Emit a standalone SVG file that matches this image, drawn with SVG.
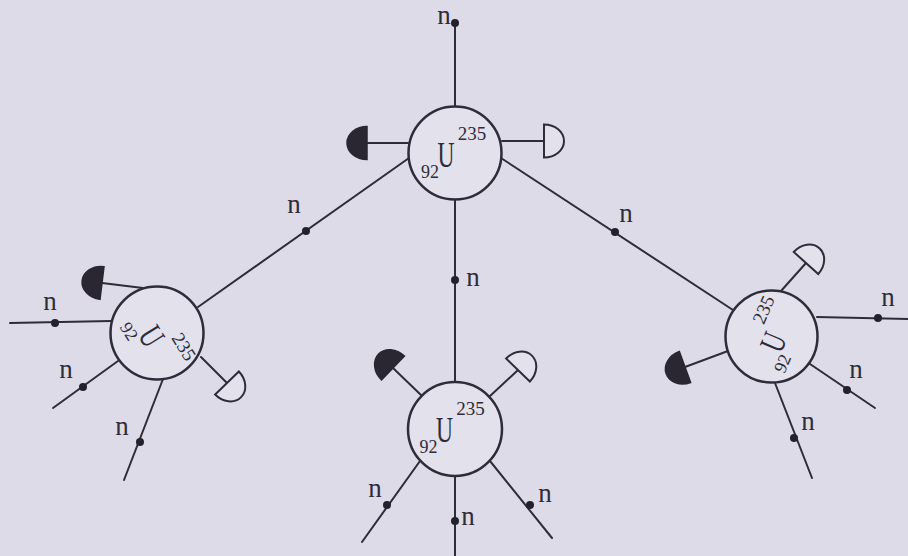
<svg xmlns="http://www.w3.org/2000/svg" width="908" height="556" viewBox="0 0 908 556">
  <defs>
    <style>
      .ln { stroke: #2f2c3a; stroke-width: 2; fill: none; stroke-linecap: round; }
      .nuc { stroke: #2f2c3a; stroke-width: 2.5; fill: #e2e1ec; }
      .dot { fill: #24212e; }
      .lbl { font-family: "Liberation Serif", "Times New Roman", serif; fill: #2f2c3a; }
      .n { font-size: 27px; text-anchor: middle; }
      .sym { font-size: 35px; text-anchor: middle; }
      .mass { font-size: 19px; text-anchor: middle; }
      .z { font-size: 18px; text-anchor: middle; }
      .full { fill: #2a2632; stroke: #2a2632; stroke-width: 1.5; }
      .open { fill: #e2e1ec; stroke: #2f2c3a; stroke-width: 2; }
    </style>
    <!-- half disc: flat side on the y axis, bulge toward +x -->
    <path id="half" d="M0,-16.5 A20,16.5 0 0 1 0,16.5 Z"/>
    <!-- nucleus label laid out around the centre of the U -->
    <g id="u235">
      <text class="lbl sym" x="0" y="12" textLength="17" lengthAdjust="spacingAndGlyphs">U</text>
      <text class="lbl mass" x="26" y="-15">235</text>
      <text class="lbl z" x="-16" y="23">92</text>
    </g>
  </defs>

  <rect width="908" height="556" fill="#dcdbe7"/>

  <!-- connectors between nuclei -->
  <g id="connectors">
    <line class="ln" x1="409" y1="158" x2="198" y2="307"/>
    <line class="ln" x1="501" y1="158" x2="733" y2="310"/>
    <line class="ln" x1="455" y1="200" x2="455" y2="382"/>
    <circle class="dot" cx="306" cy="231" r="4"/>
    <circle class="dot" cx="455" cy="280" r="4"/>
    <circle class="dot" cx="615" cy="232" r="4"/>
    <text class="lbl n" x="294" y="213">n</text>
    <text class="lbl n" x="473" y="286">n</text>
    <text class="lbl n" x="626" y="222">n</text>
  </g>

  <!-- top nucleus -->
  <g id="nucleus-top">
    <line class="ln" x1="455" y1="107" x2="455" y2="22"/>
    <circle class="dot" cx="455" cy="23" r="4"/>
    <text class="lbl n" x="444" y="24">n</text>
    <line class="ln" x1="409" y1="143" x2="367" y2="143"/>
    <use href="#half" class="full" transform="translate(367,143) rotate(180)"/>
    <line class="ln" x1="502" y1="141" x2="544" y2="141"/>
    <use href="#half" class="open" transform="translate(544,141)"/>
    <circle class="nuc" cx="455" cy="153" r="46.5"/>
    <use href="#u235" transform="translate(446,155)"/>
  </g>

  <!-- left nucleus -->
  <g id="nucleus-left">
    <line class="ln" x1="143" y1="288" x2="102" y2="283"/>
    <use href="#half" class="full" transform="translate(102,283) rotate(187)"/>
    <line class="ln" x1="201" y1="357" x2="227" y2="383"/>
    <use href="#half" class="open" transform="translate(227,383) rotate(46)"/>
    <line class="ln" x1="111" y1="321" x2="10" y2="323"/>
    <circle class="dot" cx="55" cy="323" r="4"/>
    <text class="lbl n" x="50" y="310">n</text>
    <line class="ln" x1="118" y1="361" x2="53" y2="408"/>
    <circle class="dot" cx="83" cy="387" r="4"/>
    <text class="lbl n" x="66" y="378">n</text>
    <line class="ln" x1="163" y1="379" x2="124" y2="480"/>
    <circle class="dot" cx="140" cy="442" r="4"/>
    <text class="lbl n" x="122" y="435">n</text>
    <circle class="nuc" cx="157" cy="333" r="46.5"/>
    <use href="#u235" transform="translate(152,336) rotate(58)"/>
  </g>

  <!-- bottom nucleus -->
  <g id="nucleus-bottom">
    <line class="ln" x1="422" y1="396" x2="393" y2="368"/>
    <use href="#half" class="full" transform="translate(393,368) rotate(-136)"/>
    <line class="ln" x1="489" y1="397" x2="518" y2="370"/>
    <use href="#half" class="open" transform="translate(518,370) rotate(-46)"/>
    <line class="ln" x1="420" y1="461" x2="362" y2="542"/>
    <circle class="dot" cx="387" cy="505" r="4"/>
    <text class="lbl n" x="375" y="497">n</text>
    <line class="ln" x1="455" y1="476" x2="455" y2="556"/>
    <circle class="dot" cx="455" cy="521" r="4"/>
    <text class="lbl n" x="468" y="525">n</text>
    <line class="ln" x1="490" y1="461" x2="552" y2="538"/>
    <circle class="dot" cx="530" cy="505" r="4"/>
    <text class="lbl n" x="545" y="502">n</text>
    <circle class="nuc" cx="455" cy="429" r="47"/>
    <use href="#u235" transform="translate(444.5,430)"/>
  </g>

  <!-- right nucleus -->
  <g id="nucleus-right">
    <line class="ln" x1="781" y1="291" x2="806" y2="263"/>
    <use href="#half" class="open" transform="translate(806,263) rotate(-48)"/>
    <line class="ln" x1="728" y1="351" x2="685" y2="367"/>
    <use href="#half" class="full" transform="translate(685,367) rotate(160)"/>
    <line class="ln" x1="817" y1="317" x2="908" y2="319"/>
    <circle class="dot" cx="878" cy="318" r="4"/>
    <text class="lbl n" x="888" y="306">n</text>
    <line class="ln" x1="810" y1="364" x2="875" y2="408"/>
    <circle class="dot" cx="847" cy="390" r="4"/>
    <text class="lbl n" x="856" y="378">n</text>
    <line class="ln" x1="775" y1="383" x2="812" y2="478"/>
    <circle class="dot" cx="794" cy="438" r="4"/>
    <text class="lbl n" x="808" y="430">n</text>
    <circle class="nuc" cx="771.5" cy="336.5" r="46"/>
    <use href="#u235" transform="translate(773,342) rotate(-67)"/>
  </g>
</svg>
